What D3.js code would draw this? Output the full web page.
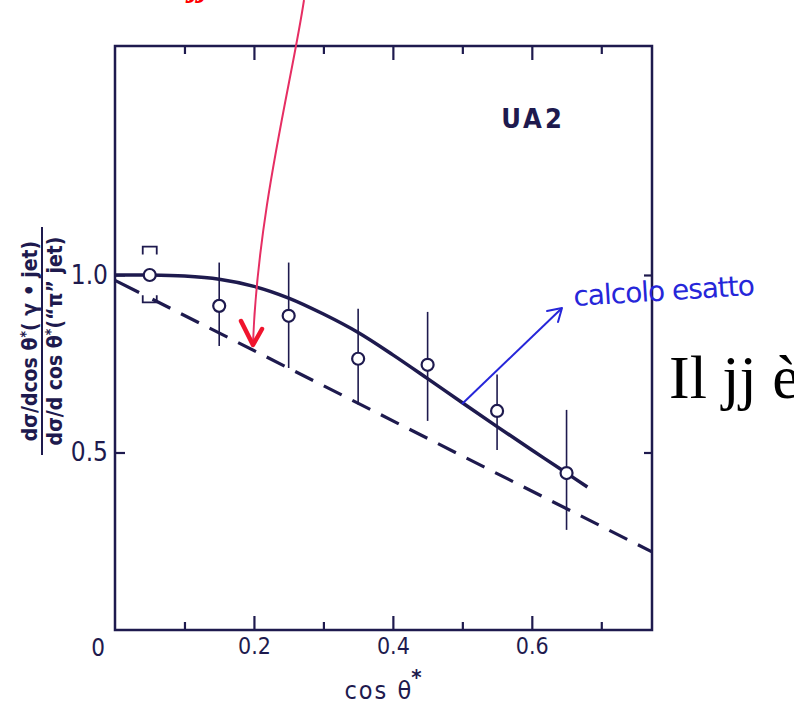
<!DOCTYPE html>
<html>
<head>
<meta charset="utf-8">
<script src="https://cdn.jsdelivr.net/npm/d3@7"></script>
<style>
body { margin: 0; background: #fff; }
svg text { font-family: "DejaVu Sans Condensed", "DejaVu Sans", sans-serif; }
svg text.serif { font-family: "Liberation Serif", "Times New Roman", serif; }
svg text.hand { font-family: "DejaVu Sans", sans-serif; }
</style>
</head>
<body>
<div id="chart"></div>
<script>
// measured points (UA2 ratio gamma-jet / pi0-jet)
var pointX = [0.05, 0.15, 0.25, 0.35, 0.45, 0.55, 0.65];
var pointY = [1.0, 0.913, 0.885, 0.764, 0.747, 0.617, 0.442];
var errHigh = [1.08, 1.035, 1.035, 0.905, 0.896, 0.72, 0.62];
var errLow = [0.923, 0.80, 0.738, 0.635, 0.589, 0.507, 0.282];
var bracketErr = [true, false, false, false, false, false, false];

// solid theory curve ("calcolo esatto")
var curveX = [0, 0.05, 0.1, 0.15, 0.2, 0.25, 0.3, 0.35, 0.4, 0.45, 0.5, 0.55, 0.6, 0.65, 0.68];
var curveY = [1.0, 1.0, 0.997, 0.988, 0.968, 0.935, 0.89, 0.838, 0.775, 0.708, 0.64, 0.573, 0.507, 0.442, 0.403];

// dashed approximation
var dashX = [0, 0.773];
var dashY = [0.985, 0.22];

var xMajorTicks = [0.2, 0.4, 0.6];
var xMinorTicks = [0.1, 0.3, 0.5, 0.7];
var yTicks = [0.5, 1.0];

var width = 794,
    height = 704,
    ink = "#1e1a4e";

var svg = d3.select("#chart").append("svg")
    .attr("width", width)
    .attr("height", height);

var x = d3.scaleLinear().domain([0, 0.773]).range([115, 652]);
var y = d3.scaleLinear().domain([0, 1.645]).range([630, 46]);

// axes, ticks all pointing inward
function styleAxis(g) {
    g.select(".domain").remove();
    g.selectAll(".tick line").attr("stroke", ink).attr("stroke-width", 2.2);
    g.selectAll(".tick text").attr("fill", ink);
}

svg.append("g")
    .attr("transform", "translate(0," + y(0) + ")")
    .call(d3.axisBottom(x).tickValues(xMajorTicks).tickSizeInner(-14).tickSizeOuter(0)
        .tickPadding(8).tickFormat(d3.format(".1f")))
    .call(styleAxis)
    .selectAll("text").attr("font-size", 23);

svg.append("g")
    .attr("transform", "translate(0," + y(0) + ")")
    .call(d3.axisBottom(x).tickValues(xMinorTicks).tickSizeInner(-8).tickSizeOuter(0).tickFormat(""))
    .call(styleAxis);

svg.append("g")
    .attr("transform", "translate(0," + y.range()[1] + ")")
    .call(d3.axisTop(x).tickValues(xMajorTicks).tickSizeInner(-14).tickSizeOuter(0).tickFormat(""))
    .call(styleAxis);

svg.append("g")
    .attr("transform", "translate(0," + y.range()[1] + ")")
    .call(d3.axisTop(x).tickValues(xMinorTicks).tickSizeInner(-8).tickSizeOuter(0).tickFormat(""))
    .call(styleAxis);

svg.append("g")
    .attr("transform", "translate(" + x(0) + ",0)")
    .call(d3.axisLeft(y).tickValues(yTicks).tickSizeInner(-10).tickSizeOuter(0)
        .tickPadding(7).tickFormat(d3.format(".1f")))
    .call(styleAxis)
    .selectAll("text").attr("font-size", 26);

svg.append("g")
    .attr("transform", "translate(" + x.range()[1] + ",0)")
    .call(d3.axisRight(y).tickValues(yTicks).tickSizeInner(-8).tickSizeOuter(0).tickFormat(""))
    .call(styleAxis);

// frame
svg.append("rect")
    .attr("x", x(0)).attr("y", y.range()[1])
    .attr("width", x.range()[1] - x(0))
    .attr("height", y(0) - y.range()[1])
    .attr("fill", "none").attr("stroke", ink).attr("stroke-width", 2.5);

svg.append("text")
    .attr("x", x(0) - 17).attr("y", y(0) + 26)
    .attr("text-anchor", "middle").attr("font-size", 24).attr("fill", ink)
    .text("0");

// x label
var xl = svg.append("text")
    .attr("x", 384).attr("y", 699)
    .attr("text-anchor", "middle").attr("font-size", 25)
    .attr("letter-spacing", 2).attr("fill", ink);
xl.append("tspan").text("cos θ");
xl.append("tspan").attr("dy", -14).attr("dx", -2).attr("font-size", 22).attr("font-weight", "bold").text("*");

// y label as a fraction
var yl = svg.append("g").attr("transform", "translate(0,341) rotate(-90)");
var num = yl.append("text")
    .attr("x", 0).attr("y", 37)
    .attr("text-anchor", "middle").attr("font-size", 21).attr("font-weight", "bold")
    .attr("fill", ink);
num.append("tspan").text("dσ/dcos θ");
num.append("tspan").attr("dy", -7).attr("font-size", 14).text("*");
num.append("tspan").attr("dy", 7).text("( γ • jet)");
yl.append("line")
    .attr("x1", -114).attr("x2", 114).attr("y1", 42).attr("y2", 42)
    .attr("stroke", ink).attr("stroke-width", 2);
var den = yl.append("text")
    .attr("x", 0).attr("y", 62)
    .attr("text-anchor", "middle").attr("font-size", 21).attr("font-weight", "bold")
    .attr("fill", ink);
den.append("tspan").text("dσ/d cos θ");
den.append("tspan").attr("dy", -7).attr("font-size", 14).text("*");
den.append("tspan").attr("dy", 7).text("(\u201Cπ\u201D jet)");

// UA2 tag
svg.append("text")
    .attr("x", 533).attr("y", 128)
    .attr("text-anchor", "middle").attr("font-size", 27).attr("font-weight", "bold")
    .attr("letter-spacing", 3).attr("fill", ink)
    .text("UA2");

// dashed line
var dashData = dashX.map(function (d, i) { return [d, dashY[i]]; });
svg.append("path")
    .datum(dashData)
    .attr("d", d3.line().x(function (d) { return x(d[0]); }).y(function (d) { return y(d[1]); }))
    .attr("fill", "none").attr("stroke", ink).attr("stroke-width", 3.2)
    .attr("stroke-dasharray", "27,15,20,12,20,12,20,12,20,12,20,12,20,12,20,12,20,12,20,12,20,12,20,12,20,12,20,12,20,12,20,12,20,12,20,12");

// solid curve
var curveData = curveX.map(function (d, i) { return [d, curveY[i]]; });
svg.append("path")
    .datum(curveData)
    .attr("d", d3.line().curve(d3.curveCatmullRom)
        .x(function (d) { return x(d[0]); }).y(function (d) { return y(d[1]); }))
    .attr("fill", "none").attr("stroke", ink).attr("stroke-width", 3.5);

// error bars
var pts = pointX.map(function (d, i) {
    return { x: d, y: pointY[i], hi: errHigh[i], lo: errLow[i], bracket: bracketErr[i] };
});

svg.selectAll(".err")
    .data(pts.filter(function (d) { return !d.bracket; }))
    .enter().append("line")
    .attr("class", "err")
    .attr("x1", function (d) { return x(d.x); })
    .attr("x2", function (d) { return x(d.x); })
    .attr("y1", function (d) { return y(d.hi); })
    .attr("y2", function (d) { return y(d.lo); })
    .attr("stroke", ink).attr("stroke-width", 1.6);

svg.selectAll(".bracket")
    .data(pts.filter(function (d) { return d.bracket; }))
    .enter().append("path")
    .attr("class", "bracket")
    .attr("d", function (d) {
        var cx = x(d.x), t = y(d.hi), b = y(d.lo);
        return "M" + (cx - 7) + "," + (t + 8) + "V" + t + "H" + (cx + 7) + "V" + (t + 8) +
            "M" + (cx - 7) + "," + (b - 7) + "V" + b + "H" + (cx + 7) + "V" + (b - 7);
    })
    .attr("fill", "none").attr("stroke", ink).attr("stroke-width", 1.8);

svg.selectAll(".pt")
    .data(pts)
    .enter().append("circle")
    .attr("class", "pt")
    .attr("cx", function (d) { return x(d.x); })
    .attr("cy", function (d) { return y(d.y); })
    .attr("r", 6)
    .attr("fill", "#fff").attr("stroke", ink).attr("stroke-width", 2.2);

// red annotation arrow coming from above
svg.append("text")
    .attr("class", "serif")
    .attr("x", 190).attr("y", -4)
    .attr("font-style", "italic").attr("font-weight", "bold")
    .attr("font-size", 34).attr("fill", "#ff0000")
    .text("jj");
svg.append("path")
    .attr("d", "M304,0 C292,80 258,210 253,343")
    .attr("fill", "none").attr("stroke", "#e62e63").attr("stroke-width", 2);
svg.append("path")
    .attr("d", "M241,321 L253,345 L262,329")
    .attr("fill", "none").attr("stroke", "#f0142d").attr("stroke-width", 4.5)
    .attr("stroke-linecap", "round").attr("stroke-linejoin", "round");

// blue annotation
var blue = "#2626d9";
svg.append("line")
    .attr("x1", 462).attr("y1", 404).attr("x2", 561).attr("y2", 309)
    .attr("stroke", blue).attr("stroke-width", 2);
svg.append("path")
    .attr("d", "M547,311 L562,308 L558,322")
    .attr("fill", "none").attr("stroke", blue).attr("stroke-width", 2)
    .attr("stroke-linecap", "round").attr("stroke-linejoin", "round");
svg.append("text")
    .attr("class", "hand")
    .attr("transform", "translate(574,306) rotate(-3.5)")
    .attr("font-size", 28).attr("letter-spacing", -1).attr("fill", blue)
    .text("calcolo esatto");

svg.append("text")
    .attr("class", "serif")
    .attr("x", 669).attr("y", 398)
    .attr("font-size", 62).attr("fill", "#000")
    .text("Il jj è");
</script>
</body>
</html>
